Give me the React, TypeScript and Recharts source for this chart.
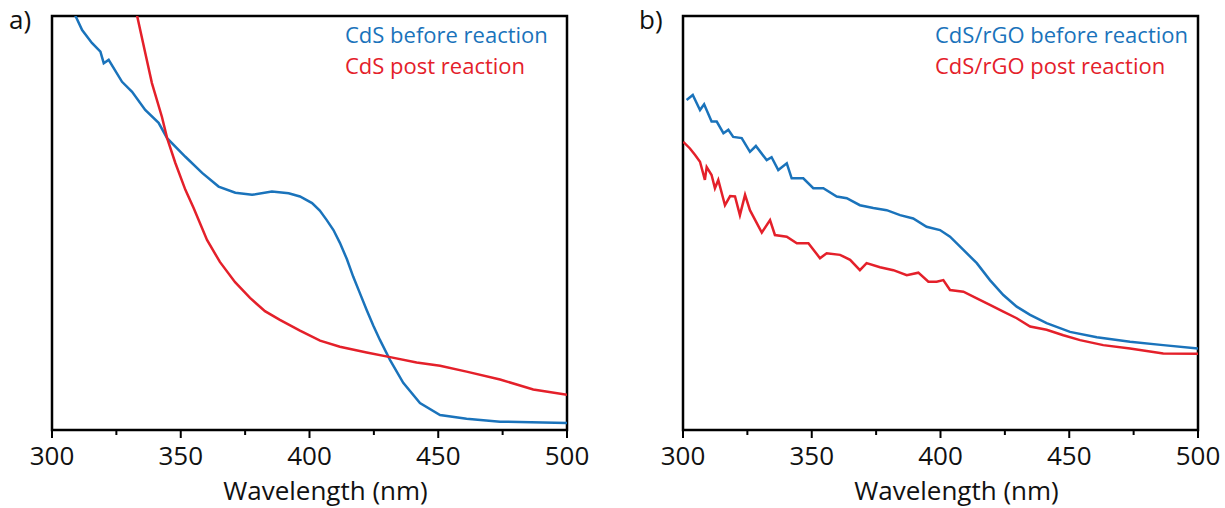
import { LineChart, Line, XAxis, YAxis, ReferenceArea } from "recharts";

// wavelength ticks (nm); labels only on the multiples of 50
const ticks = [300, 325, 350, 375, 400, 425, 450, 475, 500];

// panel a — CdS
const cdsBeforeNm = [309.0, 311.7, 315.5, 318.8, 320.1, 322.0, 327.2, 331.1, 336.2, 341.4, 344.7, 351.8, 358.3, 364.7, 371.2, 377.7, 385.4, 391.9, 396.3, 401.0, 404.0, 406.7, 409.3, 411.8, 414.5, 417.0, 419.6, 422.2, 424.8, 427.4, 431.3, 436.4, 442.9, 450.7, 461.0, 474.0, 486.0, 500.0];
const cdsBeforeAbs = [100.2, 96.6, 93.5, 91.4, 88.6, 89.4, 84.1, 81.7, 77.3, 74.2, 70.5, 66.0, 62.1, 58.8, 57.3, 56.8, 57.6, 57.2, 56.4, 54.8, 53.0, 50.7, 48.3, 45.2, 41.3, 37.0, 33.0, 29.0, 25.2, 21.7, 16.9, 11.4, 6.5, 3.6, 2.7, 2.0, 1.9, 1.7];
const cdsPostNm = [333.0, 336.2, 338.8, 342.7, 344.7, 347.9, 351.8, 355.0, 360.2, 365.2, 371.1, 376.9, 382.7, 388.5, 396.3, 404.1, 411.8, 422.2, 431.3, 441.6, 450.7, 461.0, 474.0, 486.9, 500.0];
const cdsPostAbs = [100.2, 91.1, 83.8, 75.6, 70.5, 64.5, 58.0, 53.6, 45.9, 40.6, 35.7, 31.9, 28.7, 26.6, 24.0, 21.6, 20.1, 18.7, 17.6, 16.3, 15.5, 14.1, 12.2, 9.8, 8.5];

// panel b — CdS/rGO
const rgoBeforeNm = [301.4, 303.8, 306.6, 308.2, 311.1, 313.1, 315.7, 317.6, 319.5, 322.8, 326.0, 328.3, 332.5, 334.4, 337.0, 340.3, 342.2, 346.7, 350.6, 354.5, 359.7, 363.6, 368.7, 373.9, 379.1, 384.3, 389.4, 394.6, 399.8, 403.7, 408.9, 414.1, 419.2, 424.4, 429.6, 434.8, 441.2, 450.3, 460.7, 473.6, 486.5, 500.0];
const rgoBeforeAbs = [79.7, 80.9, 77.3, 78.7, 74.5, 74.5, 71.7, 72.5, 70.8, 70.5, 67.2, 68.6, 65.2, 65.9, 62.8, 64.4, 60.8, 60.8, 58.4, 58.4, 56.4, 56.0, 54.3, 53.6, 53.1, 51.9, 51.1, 49.1, 48.3, 46.7, 43.5, 40.3, 36.2, 32.6, 29.8, 27.8, 25.8, 23.7, 22.4, 21.3, 20.5, 19.7];
const rgoPostNm = [300.1, 302.7, 304.7, 306.6, 308.5, 309.2, 311.1, 312.4, 313.7, 316.3, 318.3, 320.2, 322.1, 324.1, 326.0, 330.6, 333.8, 335.7, 340.3, 344.2, 348.7, 353.2, 355.8, 361.0, 364.9, 368.7, 371.3, 376.5, 381.7, 386.9, 391.4, 395.3, 398.5, 401.1, 403.7, 408.9, 414.1, 419.2, 424.4, 429.6, 434.8, 441.2, 447.7, 454.2, 463.2, 473.6, 486.5, 500.0];
const rgoPostAbs = [69.6, 68.0, 66.4, 64.8, 60.4, 63.5, 61.6, 58.4, 60.4, 54.3, 56.5, 56.4, 51.9, 56.8, 53.1, 47.7, 50.7, 47.1, 46.7, 45.1, 45.1, 41.5, 42.7, 42.3, 41.1, 38.6, 40.3, 39.3, 38.6, 37.4, 38.0, 35.8, 35.8, 36.2, 33.8, 33.4, 31.8, 30.2, 28.6, 27.0, 25.0, 24.2, 22.9, 21.7, 20.5, 19.7, 18.5, 18.4];

const BLUE = "#1a73bb";
const RED = "#e4202a";
const FONT = "'Open Sans', sans-serif";
const TICK_SIZE = 8;
const TICK_MARGIN = 4;

const zip = (nm: number[], abs: number[]) => nm.map((v, i) => ({ nm: v, abs: abs[i] }));

function WaveTick(props: any) {
  const { x, y, payload } = props;
  const major = payload.value % 50 === 0;
  const y0 = y - TICK_SIZE - TICK_MARGIN;
  return (
    <g>
      <line x1={x} x2={x} y1={y0} y2={y0 + (major ? 8 : 5)} stroke="#000" strokeWidth={2} />
      {major && (
        <text x={x} y={y0 + 35} textAnchor="middle" fontSize={26} fontFamily={FONT} fill="#111">
          {payload.value}
        </text>
      )}
    </g>
  );
}

function AxisTitle(props: any) {
  const { viewBox } = props;
  return (
    <text
      x={viewBox.x + viewBox.width / 2 + 16}
      y={viewBox.y + 70}
      textAnchor="middle"
      fontSize={26}
      fontFamily={FONT}
      fill="#111"
    >
      Wavelength (nm)
    </text>
  );
}

interface PanelProps {
  left: number;
  width: number;
  margin: { top: number; right: number; left: number; bottom: number };
  before: { nm: number; abs: number }[];
  post: { nm: number; abs: number }[];
}

function Panel({ left, width, margin, before, post }: PanelProps) {
  return (
    <div style={{ position: "absolute", left, top: 0 }}>
      <LineChart width={width} height={508} margin={margin}>
        <XAxis
          type="number"
          dataKey="nm"
          domain={[300, 500]}
          ticks={ticks}
          allowDataOverflow
          height={78}
          axisLine={false}
          tickLine={false}
          tickSize={TICK_SIZE}
          tickMargin={TICK_MARGIN}
          tick={<WaveTick />}
          label={{ content: (p: any) => <AxisTitle {...p} /> }}
        />
        <YAxis type="number" domain={[0, 100]} allowDataOverflow hide />
        <ReferenceArea x1={300} x2={500} y1={0} y2={100} fill="none" stroke="#000" strokeWidth={2.5} />
        <Line data={before} dataKey="abs" type="linear" stroke={BLUE} strokeWidth={2.5} dot={false} isAnimationActive={false} />
        <Line data={post} dataKey="abs" type="linear" stroke={RED} strokeWidth={2.5} dot={false} isAnimationActive={false} />
      </LineChart>
    </div>
  );
}

const textStyle = { position: "absolute" as const, fontFamily: FONT, whiteSpace: "nowrap" as const, lineHeight: 1 };

export default function App() {
  return (
    <div style={{ position: "fixed", left: 0, top: 0, width: 1225, height: 508, background: "#fff", overflow: "hidden" }}>
      <Panel
        left={0}
        width={600}
        margin={{ top: 16, right: 33, left: 52, bottom: 0 }}
        before={zip(cdsBeforeNm, cdsBeforeAbs)}
        post={zip(cdsPostNm, cdsPostAbs)}
      />
      <Panel
        left={600}
        width={625}
        margin={{ top: 16, right: 27, left: 83, bottom: 0 }}
        before={zip(rgoBeforeNm, rgoBeforeAbs)}
        post={zip(rgoPostNm, rgoPostAbs)}
      />
      <div style={{ ...textStyle, left: 9, top: 6, fontSize: 26, color: "#111" }}>a)</div>
      <div style={{ ...textStyle, left: 639, top: 6, fontSize: 26, color: "#111" }}>b)</div>
      <div style={{ ...textStyle, left: 345, top: 23, fontSize: 22, color: BLUE }}>CdS before reaction</div>
      <div style={{ ...textStyle, left: 345, top: 54, fontSize: 22, color: RED }}>CdS post reaction</div>
      <div style={{ ...textStyle, left: 935, top: 23, fontSize: 22, color: BLUE }}>CdS/rGO before reaction</div>
      <div style={{ ...textStyle, left: 935, top: 54, fontSize: 22, color: RED }}>CdS/rGO post reaction</div>
    </div>
  );
}
